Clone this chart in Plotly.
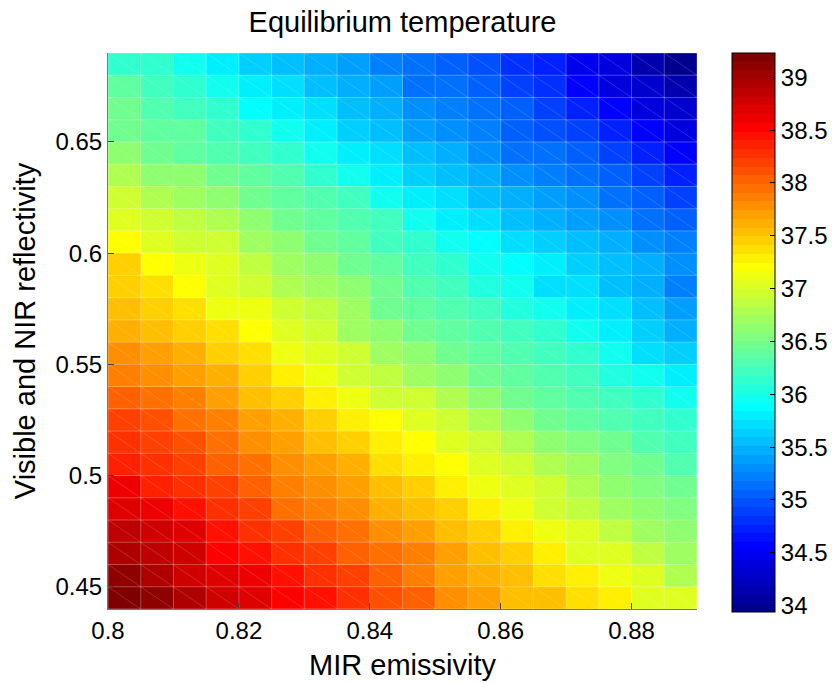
import plotly.graph_objects as go

# ---- data ----
emissivity_edges = [0.800, 0.805, 0.810, 0.815, 0.820, 0.825, 0.830, 0.835, 0.840, 0.845,
                    0.850, 0.855, 0.860, 0.865, 0.870, 0.875, 0.880, 0.885, 0.890]
reflectivity_edges = [0.44, 0.45, 0.46, 0.47, 0.48, 0.49, 0.50, 0.51, 0.52, 0.53, 0.54, 0.55, 0.56,
                      0.57, 0.58, 0.59, 0.60, 0.61, 0.62, 0.63, 0.64, 0.65, 0.66, 0.67, 0.68, 0.69]

# equilibrium temperature, rows from reflectivity 0.44 (bottom) to 0.68 (top)
temperature = [
    [39.22, 39.07, 38.97, 38.81, 38.71, 38.53, 38.42, 38.32, 38.11, 38.01, 37.80, 37.72, 37.56, 37.54, 37.38, 37.25, 37.07, 37.02],
    [39.12, 38.97, 38.81, 38.71, 38.61, 38.42, 38.27, 38.21, 38.01, 37.90, 37.74, 37.64, 37.51, 37.38, 37.25, 37.10, 37.02, 36.81],
    [38.97, 38.87, 38.76, 38.53, 38.42, 38.27, 38.16, 38.06, 37.93, 37.85, 37.67, 37.54, 37.43, 37.25, 37.07, 37.02, 36.87, 36.71],
    [38.87, 38.81, 38.66, 38.48, 38.32, 38.16, 38.03, 37.93, 37.77, 37.67, 37.54, 37.46, 37.25, 37.12, 37.02, 36.87, 36.71, 36.61],
    [38.71, 38.58, 38.45, 38.27, 38.16, 37.98, 37.88, 37.77, 37.65, 37.54, 37.46, 37.25, 37.15, 36.99, 36.84, 36.74, 36.61, 36.53],
    [38.58, 38.40, 38.32, 38.19, 38.06, 37.90, 37.80, 37.69, 37.54, 37.43, 37.25, 37.12, 37.02, 36.92, 36.76, 36.66, 36.55, 36.45],
    [38.37, 38.29, 38.21, 38.06, 37.95, 37.80, 37.69, 37.59, 37.41, 37.25, 37.18, 37.02, 36.92, 36.76, 36.71, 36.55, 36.45, 36.29],
    [38.32, 38.19, 38.11, 37.98, 37.82, 37.69, 37.56, 37.43, 37.25, 37.18, 37.02, 36.92, 36.76, 36.66, 36.55, 36.45, 36.29, 36.19],
    [38.16, 38.08, 37.98, 37.90, 37.74, 37.59, 37.48, 37.28, 37.18, 37.02, 36.92, 36.76, 36.66, 36.50, 36.40, 36.29, 36.19, 36.09],
    [38.06, 37.93, 37.85, 37.69, 37.56, 37.43, 37.25, 37.15, 36.97, 36.92, 36.76, 36.66, 36.50, 36.40, 36.29, 36.19, 36.09, 35.93],
    [37.90, 37.80, 37.69, 37.59, 37.48, 37.25, 37.15, 36.97, 36.87, 36.71, 36.61, 36.50, 36.40, 36.29, 36.19, 36.03, 35.93, 35.77],
    [37.80, 37.67, 37.59, 37.48, 37.41, 37.12, 37.02, 36.92, 36.71, 36.66, 36.50, 36.40, 36.29, 36.19, 36.09, 35.93, 35.69, 35.64],
    [37.64, 37.56, 37.46, 37.38, 37.18, 37.07, 36.97, 36.71, 36.66, 36.50, 36.40, 36.29, 36.19, 36.09, 35.93, 35.80, 35.67, 35.51],
    [37.56, 37.43, 37.35, 37.15, 37.10, 36.97, 36.87, 36.71, 36.50, 36.40, 36.29, 36.19, 36.03, 35.93, 35.80, 35.69, 35.54, 35.38],
    [37.46, 37.38, 37.18, 37.07, 36.92, 36.81, 36.71, 36.61, 36.45, 36.29, 36.24, 36.03, 35.93, 35.74, 35.69, 35.54, 35.43, 35.22],
    [37.43, 37.23, 37.12, 37.02, 36.87, 36.71, 36.66, 36.50, 36.35, 36.24, 36.14, 35.93, 35.90, 35.80, 35.64, 35.54, 35.48, 35.33],
    [37.18, 37.07, 36.97, 36.92, 36.71, 36.61, 36.50, 36.40, 36.24, 36.14, 35.98, 35.85, 35.74, 35.64, 35.54, 35.43, 35.33, 35.22],
    [37.07, 36.97, 36.87, 36.76, 36.66, 36.50, 36.40, 36.29, 36.19, 35.93, 35.80, 35.69, 35.59, 35.48, 35.38, 35.28, 35.17, 35.07],
    [36.92, 36.81, 36.71, 36.61, 36.50, 36.40, 36.29, 36.19, 35.98, 35.82, 35.69, 35.59, 35.43, 35.38, 35.28, 35.17, 35.07, 34.91],
    [36.81, 36.66, 36.61, 36.45, 36.40, 36.29, 36.14, 35.98, 35.80, 35.64, 35.59, 35.43, 35.33, 35.22, 35.12, 35.02, 34.86, 34.76],
    [36.61, 36.50, 36.40, 36.29, 36.24, 36.09, 35.93, 35.80, 35.69, 35.54, 35.43, 35.33, 35.17, 35.12, 35.02, 34.86, 34.76, 34.60],
    [36.47, 36.40, 36.35, 36.19, 36.09, 35.93, 35.80, 35.64, 35.59, 35.38, 35.33, 35.22, 35.07, 34.96, 34.91, 34.70, 34.60, 34.42],
    [36.42, 36.29, 36.19, 36.09, 35.90, 35.82, 35.69, 35.59, 35.46, 35.33, 35.22, 35.17, 35.04, 34.91, 34.76, 34.60, 34.42, 34.32],
    [36.35, 36.19, 36.09, 35.93, 35.82, 35.69, 35.59, 35.43, 35.38, 35.17, 35.12, 35.02, 34.91, 34.81, 34.60, 34.42, 34.32, 34.11],
    [36.14, 36.09, 35.95, 35.80, 35.64, 35.59, 35.46, 35.38, 35.20, 35.12, 35.04, 34.96, 34.81, 34.70, 34.50, 34.37, 34.11, 33.95],
]
color_min = 33.94
color_max = 39.23

x_tickvals = [0.80, 0.82, 0.84, 0.86, 0.88]
x_ticktext = ["0.8", "0.82", "0.84", "0.86", "0.88"]
y_tickvals = [0.45, 0.50, 0.55, 0.60, 0.65]
y_ticktext = ["0.45", "0.5", "0.55", "0.6", "0.65"]
cb_tickvals = [34, 34.5, 35, 35.5, 36, 36.5, 37, 37.5, 38, 38.5, 39]
cb_ticktext = ["34", "34.5", "35", "35.5", "36", "36.5", "37", "37.5", "38", "38.5", "39"]

# ---- MATLAB jet(64) as a discrete colorscale ----
def jet64():
    n = 16
    u = [(k + 1) / n for k in range(n)] + [1.0] * (n - 1) + [(n - k) / n for k in range(n)]
    m = 64
    cols = [[0.0, 0.0, 0.0] for _ in range(m)]
    for j, val in enumerate(u, start=1):
        g = 8 + j
        r = g + n
        b = g - n
        if 1 <= r <= m:
            cols[r - 1][0] = val
        if 1 <= g <= m:
            cols[g - 1][1] = val
        if 1 <= b <= m:
            cols[b - 1][2] = val
    scale = []
    for k, c in enumerate(cols):
        s = "rgb(%d,%d,%d)" % tuple(round(255 * v) for v in c)
        scale.append([k / m, s])
        scale.append([(k + 1) / m, s])
    return scale

FONT = "Liberation Sans, Arial, Helvetica, sans-serif"

fig = go.Figure()
fig.add_trace(go.Heatmap(
    x=emissivity_edges, y=reflectivity_edges, z=temperature,
    zmin=color_min, zmax=color_max, colorscale=jet64(),
    hoverinfo="skip",
    colorbar=dict(
        x=1.059, xanchor="left", y=1.0, yanchor="top",
        lenmode="pixels", len=559, thicknessmode="pixels", thickness=43,
        outlinecolor="black", outlinewidth=1,
        tickmode="array", tickvals=cb_tickvals, ticktext=cb_ticktext,
        ticks="inside", ticklen=5, tickcolor="black",
        tickfont=dict(family=FONT, size=24, color="black"),
        xpad=0, ypad=0,
    ),
))

# faint cell edges and diagonals (rendering artefacts of the original surface plot)
gx, gy = [], []
for xv in emissivity_edges:
    gx += [xv, xv, None]
    gy += [reflectivity_edges[0], reflectivity_edges[-1], None]
for yv in reflectivity_edges:
    gx += [emissivity_edges[0], emissivity_edges[-1], None]
    gy += [yv, yv, None]
fig.add_trace(go.Scatter(x=gx, y=gy, mode="lines", hoverinfo="skip", showlegend=False,
                         line=dict(color="rgba(255,255,255,0.28)", width=1)))
dx, dy = [], []
for i in range(len(reflectivity_edges) - 1):
    for j in range(len(emissivity_edges) - 1):
        dx += [emissivity_edges[j], emissivity_edges[j + 1], None]
        dy += [reflectivity_edges[i + 1], reflectivity_edges[i], None]
fig.add_trace(go.Scatter(x=dx, y=dy, mode="lines", hoverinfo="skip", showlegend=False,
                         line=dict(color="rgba(255,255,255,0.22)", width=0.7)))

fig.update_layout(
    width=832, height=683,
    margin=dict(l=108, r=135, t=53, b=74, autoexpand=False),
    paper_bgcolor="white", plot_bgcolor="white",
    showlegend=False,
    font=dict(family=FONT, color="black"),
    title=dict(text="Equilibrium temperature", x=0.5, xref="paper", xanchor="center",
               y=0.9678, yref="container", yanchor="middle",
               font=dict(family=FONT, size=29, color="black")),
)
fig.update_xaxes(
    range=[emissivity_edges[0], emissivity_edges[-1]], automargin=False,
    tickmode="array", tickvals=x_tickvals, ticktext=x_ticktext,
    ticks="inside", ticklen=6, tickcolor="#444", showgrid=False, zeroline=False,
    showline=True, linecolor="#777", linewidth=1, mirror=False,
    tickfont=dict(family=FONT, size=24, color="black"),
    title=dict(text="MIR emissivity", font=dict(family=FONT, size=29, color="black"), standoff=11),
)
fig.update_yaxes(
    range=[reflectivity_edges[0], reflectivity_edges[-1]], automargin=False,
    tickmode="array", tickvals=y_tickvals, ticktext=y_ticktext,
    ticks="inside", ticklen=6, tickcolor="#444", showgrid=False, zeroline=False,
    showline=True, linecolor="#777", linewidth=1, mirror=False,
    tickfont=dict(family=FONT, size=24, color="black"),
    title=dict(text="Visible and NIR reflectivity", font=dict(family=FONT, size=29, color="black"), standoff=11),
)

# remove the browser's default 8 px body margin so the figure fills the window exactly
fig.write_html("out.html", config={"displayModeBar": False},
               post_script="document.body.style.margin='0px';document.body.style.overflow='hidden';")
